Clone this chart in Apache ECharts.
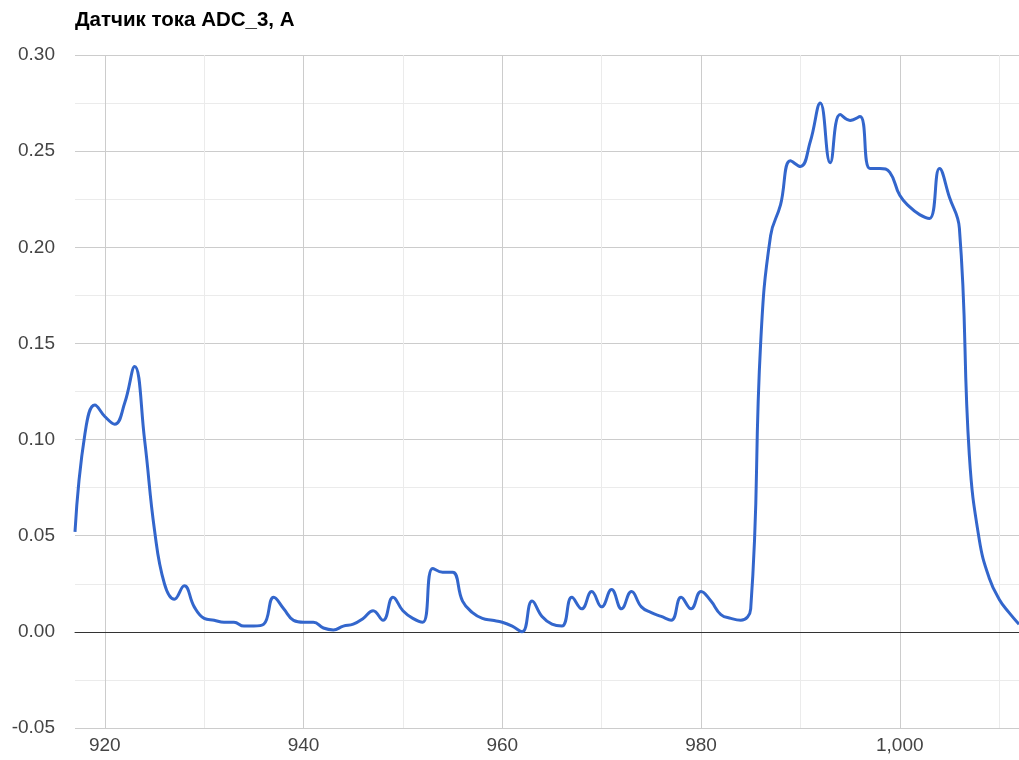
<!DOCTYPE html>
<html>
<head>
<meta charset="utf-8">
<script src="https://cdn.jsdelivr.net/npm/echarts@6/dist/echarts.min.js"></script>
<style>
  html, body { margin: 0; padding: 0; background: #fff; }
  #chart { width: 1019px; height: 760px; }
</style>
</head>
<body>
<div id="chart"></div>
<script>
// time stamps (x) and sensor readings
const times = [
  917, 918, 919, 920, 921, 922, 923, 924, 925, 926,
  927, 928, 929, 930, 931, 932, 933, 934, 935, 936,
  937, 938, 939, 940, 941, 942, 943, 944, 945, 946,
  947, 948, 949, 950, 951, 952, 953, 954, 955, 956,
  957, 958, 959, 960, 961, 962, 963, 964, 965, 966,
  967, 968, 969, 970, 971, 972, 973, 974, 975, 976,
  977, 978, 979, 980, 981, 982, 983, 984, 985, 986,
  987, 988, 989, 990, 991, 992, 993, 994, 995, 996,
  997, 998, 999, 1000, 1001, 1002, 1003, 1004, 1005, 1006,
  1007, 1008, 1009, 1010, 1011, 1012
]
const current = [
  0.052, 0.103, 0.118, 0.112, 0.108, 0.119, 0.138, 0.100, 0.053, 0.025,
  0.017, 0.024, 0.013, 0.007, 0.006, 0.005, 0.005, 0.003, 0.003, 0.004,
  0.018, 0.012, 0.006, 0.005, 0.005, 0.002, 0.001, 0.003, 0.004, 0.007,
  0.011, 0.006, 0.018, 0.011, 0.007, 0.005, 0.033, 0.031, 0.031, 0.016,
  0.010, 0.007, 0.006, 0.005, 0.003, 0.000, 0.016, 0.008, 0.004, 0.003,
  0.018, 0.012, 0.021, 0.013, 0.022, 0.012, 0.021, 0.013, 0.010, 0.008,
  0.006, 0.018, 0.012, 0.021, 0.016, 0.009, 0.007, 0.006, 0.012, 0.150,
  0.206, 0.222, 0.245, 0.242, 0.255, 0.275, 0.244, 0.269, 0.266, 0.268,
  0.241, 0.241, 0.239, 0.227, 0.221, 0.217, 0.215, 0.241, 0.226, 0.210,
  0.092, 0.048, 0.028, 0.017, 0.010, 0.004
]
const xLabelTicks = [920, 940, 960, 980, 1000]
const xMinorTicks = [930, 950, 970, 990, 1010]

const font = 'Liberation Sans, Arial, sans-serif'

const chart = echarts.init(document.getElementById('chart'), null, { renderer: 'canvas' })

const option = {
  animation: false,
  backgroundColor: '#fff',
  title: {
    text: 'Датчик тока ADC_3, A',
    left: 70,
    top: 5,
    textStyle: { fontFamily: font, fontSize: 20.5, fontWeight: 'bold', color: '#000' }
  },
  grid: { left: 75, top: 55, width: 945, height: 673, containLabel: false },
  xAxis: [
    {
      type: 'value',
      min: 917,
      max: 1012,
      position: 'bottom',
      axisLine: { show: false, onZero: false },
      axisTick: { show: false, customValues: xLabelTicks },
      axisLabel: {
        customValues: xLabelTicks,
        fontFamily: font,
        fontSize: 19,
        color: '#444',
        margin: 8,
        formatter: (v) => v.toLocaleString('en-US')
      },
      splitLine: { show: true, lineStyle: { color: '#cccccc', width: 1 } }
    },
    {
      type: 'value',
      min: 917,
      max: 1012,
      position: 'bottom',
      axisLine: { show: true, onZero: true, onZeroAxisIndex: 0, lineStyle: { color: '#333', width: 1 } },
      axisTick: { show: false, customValues: xMinorTicks },
      axisLabel: { show: false },
      splitLine: { show: true, lineStyle: { color: '#ebebeb', width: 1 } }
    }
  ],
  yAxis: {
    type: 'value',
    min: -0.05,
    max: 0.3,
    interval: 0.05,
    axisLine: { show: false },
    axisTick: { show: false },
    axisLabel: {
      fontFamily: font,
      fontSize: 19,
      color: '#444',
      margin: 20,
      formatter: (v) => v.toFixed(2)
    },
    splitLine: { show: true, lineStyle: { color: '#cccccc', width: 1 } },
    minorTick: { show: false, splitNumber: 2 },
    minorSplitLine: { show: true, lineStyle: { color: '#ebebeb', width: 1 } }
  },
  series: [
    {
      type: 'line',
      xAxisIndex: 0,
      data: times.map((t, i) => [t, current[i]]),
      smooth: 0.45,
      showSymbol: false,
      lineStyle: { color: '#3366cc', width: 3 },
      z: 5
    }
  ]
}

chart.setOption(option)
</script>
</body>
</html>
